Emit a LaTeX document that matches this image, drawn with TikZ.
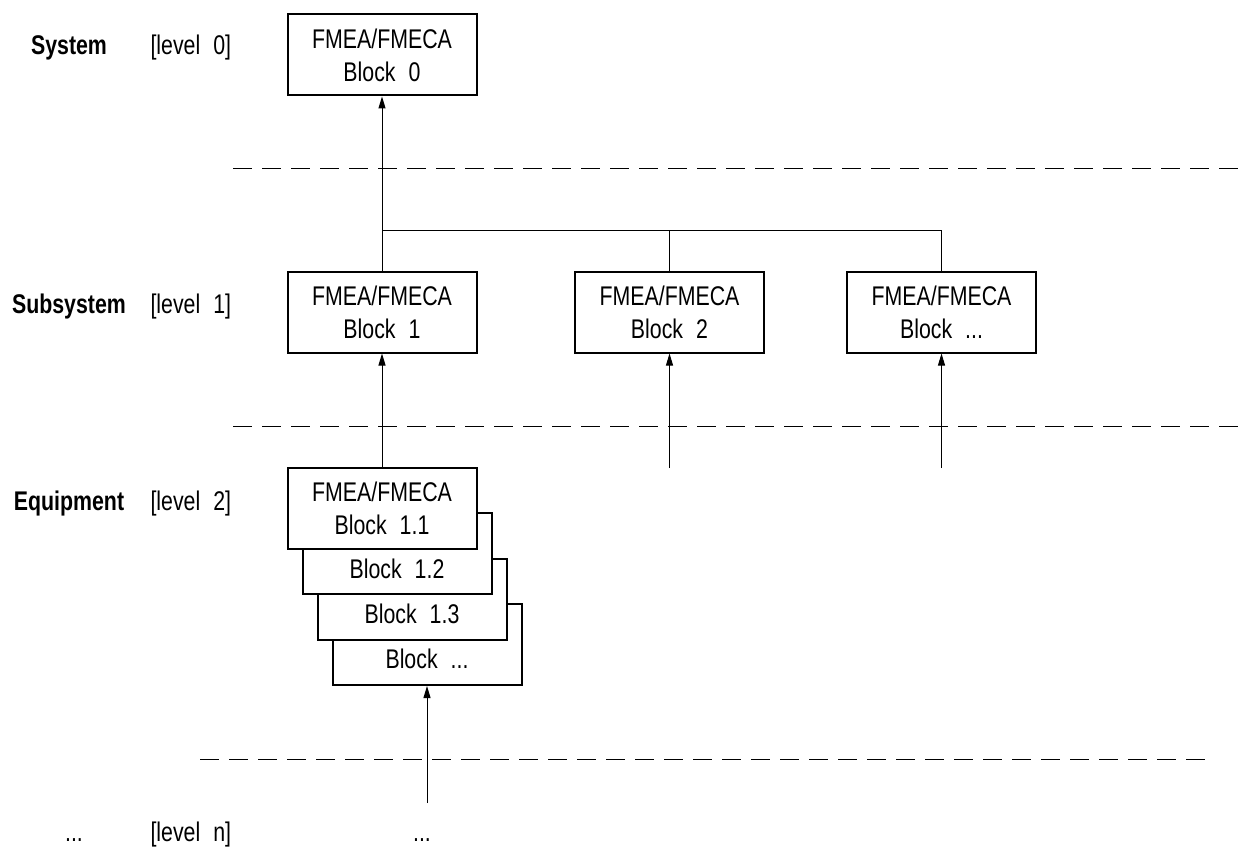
\documentclass[tikz,border=0pt]{standalone}
\usepackage{fontspec}
\setmainfont{Liberation Sans}[FakeStretch=0.79]
\usetikzlibrary{arrows.meta}
\newcommand\fsz{\fontsize{27}{33}\selectfont}
\newcommand\gp{\hspace{13pt}}
\begin{document}
\begin{tikzpicture}[x=1pt,y=-1pt,
  blk/.style={draw, line width=2pt, fill=white, minimum width=189pt, minimum height=81pt, inner sep=0pt, align=center, font=\fsz},
  txt/.style={anchor=base, font=\fsz},
  lab/.style={anchor=base, font=\fsz\bfseries},
  lvl/.style={anchor=base west, font=\fsz},
  con/.style={line width=1pt},
  arr/.style={con, -{Triangle[length=12pt,width=7pt]}},
  sep/.style={line width=1pt, dash pattern=on 19pt off 10pt}]
\useasboundingbox (0,0) rectangle (1241,850);

% level separators
\coordinate (s1a) at (233,169); \coordinate (s1b) at (1241,169);
\coordinate (s2a) at (233,426); \coordinate (s2b) at (1241,426);
\coordinate (s3a) at (200,759); \coordinate (s3b) at (1210,759);
\draw[sep] (s1a) -- (s1b);
\draw[sep] (s2a) -- (s2b);
\draw[sep] (s3a) -- (s3b);

% level labels
\node[lab] (lsys) at (69,55) {System};
\node[lvl] (l0) at (147,55) {[level\gp 0]};
\node[lab] (lsub) at (69,313) {Subsystem};
\node[lvl] (l1) at (147,313) {[level\gp 1]};
\node[lab] (lequ) at (69,510) {Equipment};
\node[lvl] (l2) at (147,510) {[level\gp 2]};
\node[txt] (ldots) at (74,841) {...};
\node[lvl] (ln) at (147,841) {[level\gp n]};
\node[txt] (bdots) at (422,841) {...};

% blocks
\node[blk] (b0) at (382,55) {FMEA/FMECA\\Block\gp 0};
\node[blk] (b1) at (382,312) {FMEA/FMECA\\Block\gp 1};
\node[blk] (b2) at (669.5,312) {FMEA/FMECA\\Block\gp 2};
\node[blk] (b3) at (941.5,312) {FMEA/FMECA\\Block\gp ...};

% stacked equipment blocks (back to front)
\node[blk] (b1x) at (427,644.5) {};
\node[txt] (t1x) at (427,668) {Block\gp ...};
\node[blk] (b13) at (412,599) {};
\node[txt] (t13) at (412,623) {Block\gp 1.3};
\node[blk] (b12) at (397,553.5) {};
\node[txt] (t12) at (397,578) {Block\gp 1.2};
\node[blk] (b11) at (382,508) {FMEA/FMECA\\Block\gp 1.1};

% connectors
\coordinate (j) at (382,231);
\coordinate (c2) at (669.5,468);
\coordinate (c3) at (941.5,468);
\coordinate (cn) at (427,803);
\draw[arr] (b1.north) -- (b0.south);
\draw[con] (b3.north) |- (j);
\draw[con] (b2.north) -- (b2.north |- j);
\draw[arr] (b11.north) -- (b1.south);
\draw[arr] (c2) -- (b2.south);
\draw[arr] (c3) -- (b3.south);
\draw[arr] (cn) -- (b1x.south);
\end{tikzpicture}
\end{document}
